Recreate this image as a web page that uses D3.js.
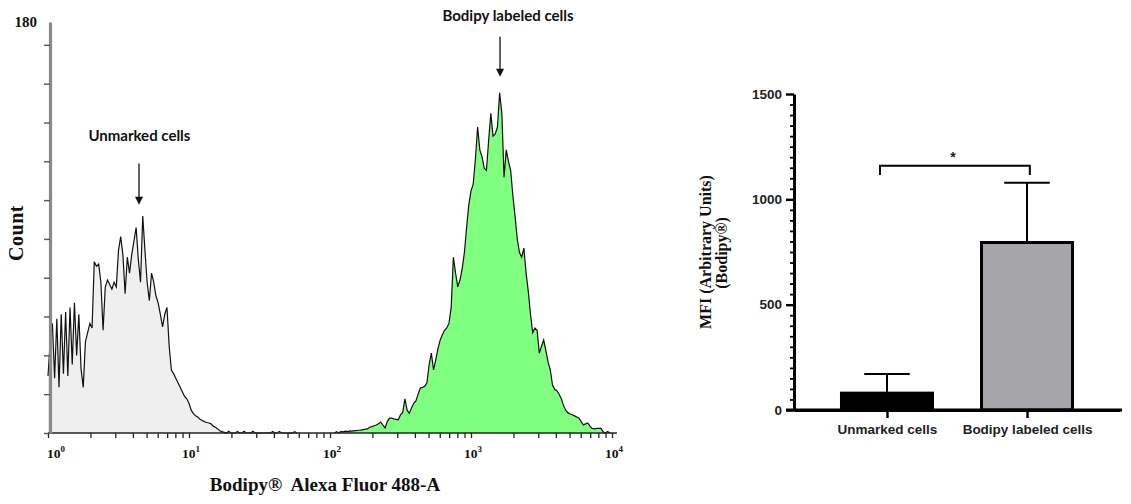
<!DOCTYPE html>
<html><head><meta charset="utf-8">
<script src="https://cdn.jsdelivr.net/npm/d3@7"></script>
<style>body{margin:0;background:#fff;} svg{display:block}</style>
</head><body>
<svg id="c" width="1131" height="504"></svg>
<script>
// ---------------- DATA ----------------
// Flow-cytometry histogram: counts per channel, 64 channels per decade (channel 0 = 10^0)
const channelsPerDecade = 64;
const unmarkedStartChannel = 0;
const unmarkedCounts = [25,40,48,24,50,20,52,26,53,25,55,30,57,34,52,28,20,40,44,48,
  46,75,73,74,66,45,64,67,65,63,66,64,80,86,78,61,77,70,78,84,
  90,76,66,95,80,66,58,70,66,60,57,52,46.5,52,55,38,27.6,26,24,22,
  20,18,16,15,13,10,8.5,7.5,7,6,5.5,5,4.6,4.4,4,3,2.5,1.8,1,0.6,
  0.3,0,0.8,0,0,0,0.7,0,0,0.8,0,0,0,0.8,0,0,0,0,0,0,
  0,0,0.7,0,0,0.7,0,0,0,0,0,0,0.6,0];
const bodipyStartChannel = 130;
const bodipyCounts = [0,0.6,0,0.7,0.5,0.8,0.6,0.9,0.8,1.0,1.0,1.2,1.3,1.5,1.7,1.8,2.5,2.8,3.2,3.5,
  4,4.8,3.5,2.2,5,6.5,6.5,6.2,6,5.8,8,9,15,10,8.6,11,13,14,17,19.7,
  20,20.5,22,30,35,27.6,32,37,40.7,43,45,46,48,55,77,70,64,67,72,79,
  90,100,106,109,120,134,124,121,116,115,128,140,130,131,134,149,140,112,124,119,
  115,104,95,85,79,77,81,70,62,52,44,46,45,35,38,40.7,36,31,27.6,21,
  19,18.5,17,15,12,10,8.8,8.3,8,7.5,7,6.5,5,3.5,4,4.4,3,2,1.8,2,
  2,2,0.5,0,0.7,0];
const histXMajor = [1, 10, 100, 1000, 10000];
const histYMax = 180;
const histYTicks = [0,17,34,51,68,85,102,119,136,153,170];
const annotations = [
  {label:"Unmarked cells", textValue:4.45, textCount:128, arrowValue:4.42, arrowFrom:118, arrowTo:100},
  {label:"Bodipy labeled cells", textValue:1830, textCount:180.6, arrowValue:1607, arrowFrom:173.5, arrowTo:156}
];
const histXTitle = "Bodipy®\u00A0 Alexa Fluor 488-A";
const histYTitle = "Count";

// Bar chart: MFI
const barCategories = ["Unmarked cells", "Bodipy labeled cells"];
const barMeans = [80, 795];
const barErrors = [91, 284];
const barYTicks = [0, 500, 1000, 1500];
const barYMinorStep = 50;
const sigBracketTop = 1160, sigBracketLeg = 1115, sigLabel = "*";
const barYTitle1 = "MFI (Arbitrary Units)";
const barYTitle2 = "(Bodipy®)";

// ---------------- DRAW ----------------
const svg = d3.select("#c");
const serif = "'Liberation Serif','Times New Roman',serif";
const sans = "'Liberation Sans',Arial,sans-serif";

// ===== Histogram =====
const hx = d3.scaleLog().domain([1, 10000]).range([48, 612]);
const hy = d3.scaleLinear().domain([0, histYMax]).range([433, 22]);
const chanValue = ch => Math.pow(10, ch / channelsPerDecade);
const toSeries = (start, counts) => counts.map((c, i) => ({v: chanValue(start + i), c}));
const unmarked = toSeries(unmarkedStartChannel, unmarkedCounts);
const bodipy = toSeries(bodipyStartChannel, bodipyCounts);

const area = d3.area().x(d => hx(d.v)).y0(hy(0)).y1(d => hy(d.c));
const line = d3.line().x(d => hx(d.v)).y(d => hy(d.c));

const hg = svg.append("g");
hg.append("path").datum(unmarked).attr("d", area).attr("fill", "#efefef");
hg.append("path").datum(unmarked).attr("d", line).attr("fill", "none").attr("stroke", "#111").attr("stroke-width", 1.2);
hg.append("path").datum(bodipy).attr("d", area).attr("fill", "#80ff80");
hg.append("path").datum(bodipy).attr("d", line).attr("fill", "none").attr("stroke", "#111").attr("stroke-width", 1.2);

// x axis (log) with minor ticks
const allXTicks = [];
for (let d = 0; d < 4; d++) for (let m = 1; m < 10; m++) allXTicks.push(m * Math.pow(10, d));
allXTicks.push(10000);
const xAx = hg.append("g").attr("transform", `translate(0,${hy(0)})`)
  .call(d3.axisBottom(hx).tickValues(allXTicks).tickSize(5).tickSizeOuter(0).tickFormat(""));
xAx.select(".domain").remove();
xAx.selectAll(".tick line").attr("stroke", "#222").attr("stroke-width", 1.3);
hg.append("line").attr("x1", hx(1)).attr("x2", hx(10000) + 5).attr("y1", hy(0)).attr("y2", hy(0))
  .attr("stroke", "#222").attr("stroke-width", 1.6);
// decade labels
const lab = hg.append("g").selectAll("text").data(histXMajor).join("text")
  .attr("x", d => hx(d) + (d === 1 ? 8 : 2)).attr("y", 458)
  .attr("text-anchor", "middle").attr("font-family", serif).attr("font-weight", "bold")
  .attr("font-size", 13.5).attr("fill", "#111");
lab.append("tspan").text("10");
lab.append("tspan").attr("dy", -6).attr("font-size", 9).text(d => Math.round(Math.log10(d)));

// y axis
const yAx = hg.append("g").attr("transform", `translate(${hx(1) + 2},0)`)
  .call(d3.axisLeft(hy).tickValues(histYTicks).tickSize(6).tickSizeOuter(0).tickFormat(""));
yAx.select(".domain").attr("stroke", "#8a8a8a").attr("stroke-width", 3.2);
yAx.selectAll(".tick line").attr("stroke", "#555").attr("stroke-width", 1.4);
hg.append("text").attr("x", 37).attr("y", hy(histYMax)).attr("dy", "0.35em").attr("text-anchor", "end")
  .attr("font-family", serif).attr("font-weight", "bold").attr("font-size", 15).attr("fill", "#111").text(histYMax);

// titles
hg.append("text").attr("x", 325).attr("y", 491).attr("text-anchor", "middle")
  .attr("font-family", serif).attr("font-weight", "bold").attr("font-size", 19).attr("fill", "#111").text(histXTitle);
hg.append("text").attr("transform", "rotate(-90)").attr("x", -233).attr("y", 23).attr("text-anchor", "middle")
  .attr("font-family", serif).attr("font-weight", "bold").attr("font-size", 20).attr("letter-spacing", 0.5).attr("fill", "#111").text(histYTitle);

// annotations
const ann = hg.append("g").selectAll("g").data(annotations).join("g");
ann.append("text").attr("x", d => hx(d.textValue)).attr("y", d => hy(d.textCount)).attr("text-anchor", "middle")
  .attr("font-family", "Lato,'Open Sans',sans-serif").attr("font-weight", "bold").attr("font-size", 15).attr("fill", "#111")
  .text(d => d.label);
ann.append("line").attr("x1", d => hx(d.arrowValue)).attr("x2", d => hx(d.arrowValue))
  .attr("y1", d => hy(d.arrowFrom)).attr("y2", d => hy(d.arrowTo) - 6).attr("stroke", "#111").attr("stroke-width", 1.3);
ann.append("path").attr("d", d => {
  const x = hx(d.arrowValue), y = hy(d.arrowTo);
  return `M${x - 4},${y - 8}L${x + 4},${y - 8}L${x},${y}Z`;
}).attr("fill", "#111");

// ===== Bar chart =====
const by = d3.scaleLinear().domain([0, 1500]).range([410, 94]);
const bx = d3.scalePoint().domain(barCategories).range([794, 1120]).padding(0.664);
const bw = bx.step() * 0.65;
const bg = svg.append("g");

// bars
bg.selectAll("rect.bar").data(barCategories).join("rect").attr("class", "bar")
  .attr("x", d => bx(d) - bw / 2).attr("width", bw)
  .attr("y", (d, i) => by(barMeans[i])).attr("height", (d, i) => by(0) - by(barMeans[i]))
  .attr("fill", (d, i) => i === 0 ? "#000" : "#a6a5aa").attr("stroke", "#000").attr("stroke-width", 3);

// error bars (upper)
const eb = bg.selectAll("g.err").data(barCategories).join("g").attr("class", "err");
eb.append("line").attr("x1", d => bx(d)).attr("x2", d => bx(d))
  .attr("y1", (d, i) => by(barMeans[i]) - 1).attr("y2", (d, i) => by(barMeans[i] + barErrors[i]))
  .attr("stroke", "#000").attr("stroke-width", 2);
eb.append("line").attr("x1", d => bx(d) - bw / 4).attr("x2", d => bx(d) + bw / 4)
  .attr("y1", (d, i) => by(barMeans[i] + barErrors[i])).attr("y2", (d, i) => by(barMeans[i] + barErrors[i]))
  .attr("stroke", "#000").attr("stroke-width", 2);

// y axis with minor ticks
const minorTicks = d3.range(0, 1500 + 1, barYMinorStep).filter(v => !barYTicks.includes(v));
const yMin = bg.append("g").attr("transform", "translate(794,0)")
  .call(d3.axisLeft(by).tickValues(minorTicks).tickSize(4).tickFormat(""));
yMin.select(".domain").remove();
yMin.selectAll(".tick line").attr("stroke", "#000").attr("stroke-width", 1.8);
const yMaj = bg.append("g").attr("transform", "translate(794,0)")
  .call(d3.axisLeft(by).tickValues(barYTicks).tickSize(8).tickSizeOuter(0).tickPadding(4).tickFormat(d3.format("d")));
yMaj.select(".domain").attr("stroke", "#000").attr("stroke-width", 3);
yMaj.selectAll(".tick line").attr("stroke", "#000").attr("stroke-width", 2.4);
yMaj.selectAll(".tick text").attr("font-family", sans).attr("font-weight", "bold").attr("font-size", 13.5).attr("fill", "#222");

// x axis
const xB = bg.append("g").attr("transform", `translate(0,${by(0)})`)
  .call(d3.axisBottom(bx).tickSize(8).tickSizeOuter(0).tickPadding(6));
xB.select(".domain").attr("stroke", "#000").attr("stroke-width", 3);
xB.selectAll(".tick line").attr("stroke", "#000").attr("stroke-width", 2.4);
xB.selectAll(".tick text").attr("font-family", sans).attr("font-weight", "bold").attr("font-size", 13.5).attr("fill", "#222");
bg.append("line").attr("x1", 786).attr("x2", 1122).attr("y1", by(0)).attr("y2", by(0)).attr("stroke", "#000").attr("stroke-width", 3);

// significance bracket
const bl = bx(barCategories[0]) - 0.05 * bx.step(), br = bx(barCategories[1]) + 0.02 * bx.step();
bg.append("path").attr("d", `M${bl},${by(sigBracketLeg)}V${by(sigBracketTop)}H${br}V${by(sigBracketLeg)}`)
  .attr("fill", "none").attr("stroke", "#000").attr("stroke-width", 2);
bg.append("text").attr("x", (bl + br) / 2 - 2).attr("y", by(sigBracketTop) - 4).attr("text-anchor", "middle")
  .attr("font-family", sans).attr("font-weight", "bold").attr("font-size", 14).attr("fill", "#222").text(sigLabel);

// y title (two lines)
bg.append("text").attr("transform", "rotate(-90)").attr("x", -252).attr("y", 711).attr("text-anchor", "middle")
  .attr("font-family", serif).attr("font-weight", "bold").attr("font-size", 16).attr("fill", "#111").text(barYTitle1);
bg.append("text").attr("transform", "rotate(-90)").attr("x", -253).attr("y", 727).attr("text-anchor", "middle")
  .attr("font-family", serif).attr("font-weight", "bold").attr("font-size", 16).attr("fill", "#111").text(barYTitle2);
</script>
</body></html>
